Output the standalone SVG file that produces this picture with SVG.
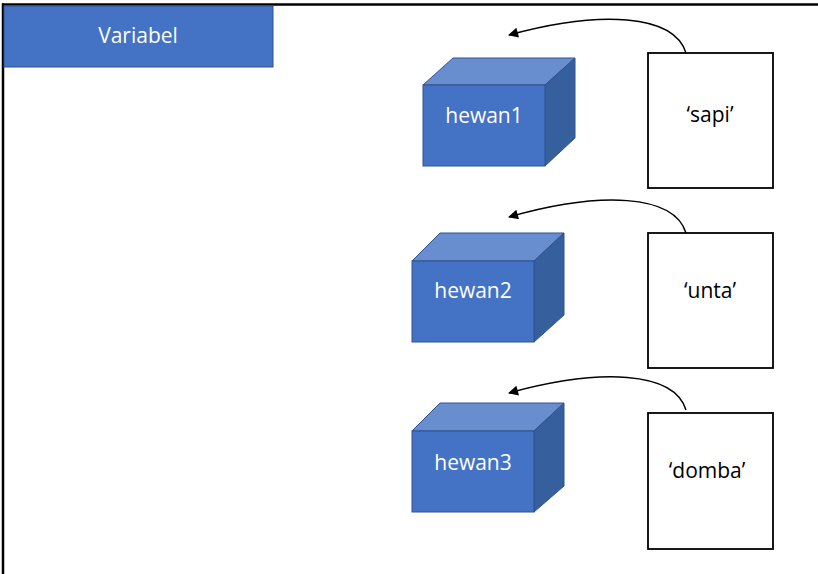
<svg xmlns="http://www.w3.org/2000/svg" width="818" height="574" viewBox="0 0 818 574">
<style>
.front{fill:#4472C4;stroke:#2F528F;stroke-width:1}
.top{fill:#698ED0;stroke:#2F528F;stroke-width:1}
.side{fill:#365F9E;stroke:#2F528F;stroke-width:1}
.wl{font-family:"Open Sans","Liberation Sans",sans-serif;font-size:21px;fill:#ffffff;text-anchor:middle}
.bl{font-family:"Open Sans","Liberation Sans",sans-serif;font-size:21px;fill:#000000;text-anchor:middle}
.box{fill:#ffffff;stroke:#000000;stroke-width:1.8}
.conn{fill:none;stroke:#000000;stroke-width:1.5}
</style>
<defs>
<marker id="ah" viewBox="0 0 10 10" refX="9" refY="5" markerWidth="14" markerHeight="10" markerUnits="userSpaceOnUse" orient="auto">
<path d="M0,0 L10,5 L0,10 z" fill="#000"/>
</marker>
</defs>
<rect width="818" height="574" fill="#ffffff"/>
<g id="frame">
<line x1="3" y1="3.5" x2="3" y2="574" stroke="#000" stroke-width="2.5"/>
<line x1="2" y1="4.5" x2="818" y2="4.5" stroke="#000" stroke-width="2.5"/>
</g>
<g id="variabel">
<rect x="4" y="6" width="269" height="61" fill="#4472C4" stroke="#2F528F" stroke-width="1"/>
<text x="138" y="43" class="wl" font-size="20">Variabel</text>
</g>
<g id="hewan1">
<polygon class="top" points="423,85 453,58 575,58 545,85"/>
<polygon class="side" points="545,85 575,58 575,138 545,166"/>
<rect class="front" x="423" y="85" width="122" height="81"/>
<text x="484" y="123" class="wl">hewan1</text>
</g>
<g id="hewan2">
<polygon class="top" points="412,261 440,233 564,233 534,261"/>
<polygon class="side" points="534,261 564,233 564,315 534,342"/>
<rect class="front" x="412" y="261" width="122" height="81"/>
<text x="473" y="298" class="wl">hewan2</text>
</g>
<g id="hewan3">
<polygon class="top" points="412,431 440,403 564,403 534,431"/>
<polygon class="side" points="534,431 564,403 564,486 534,512"/>
<rect class="front" x="412" y="431" width="122" height="81"/>
<text x="473" y="470" class="wl">hewan3</text>
</g>
<g id="sapi">
<rect class="box" x="648" y="53" width="125" height="135"/>
<text x="710" y="122" class="bl">‘sapi’</text>
</g>
<g id="unta">
<rect class="box" x="648" y="233" width="125" height="135"/>
<text x="710" y="298" class="bl">‘unta’</text>
</g>
<g id="domba">
<rect class="box" x="648" y="413" width="125" height="136"/>
<text x="707" y="478" class="bl">‘domba’</text>
</g>
<g id="connectors">
<path class="conn" marker-end="url(#ah)" d="M686,53 C674,14 600,10 509,35"/>
<path class="conn" marker-end="url(#ah)" d="M686,233 C674,194 600,191 509,217"/>
<path class="conn" marker-end="url(#ah)" d="M686,410 C674,371 600,368 509,393"/>
</g>
</svg>
